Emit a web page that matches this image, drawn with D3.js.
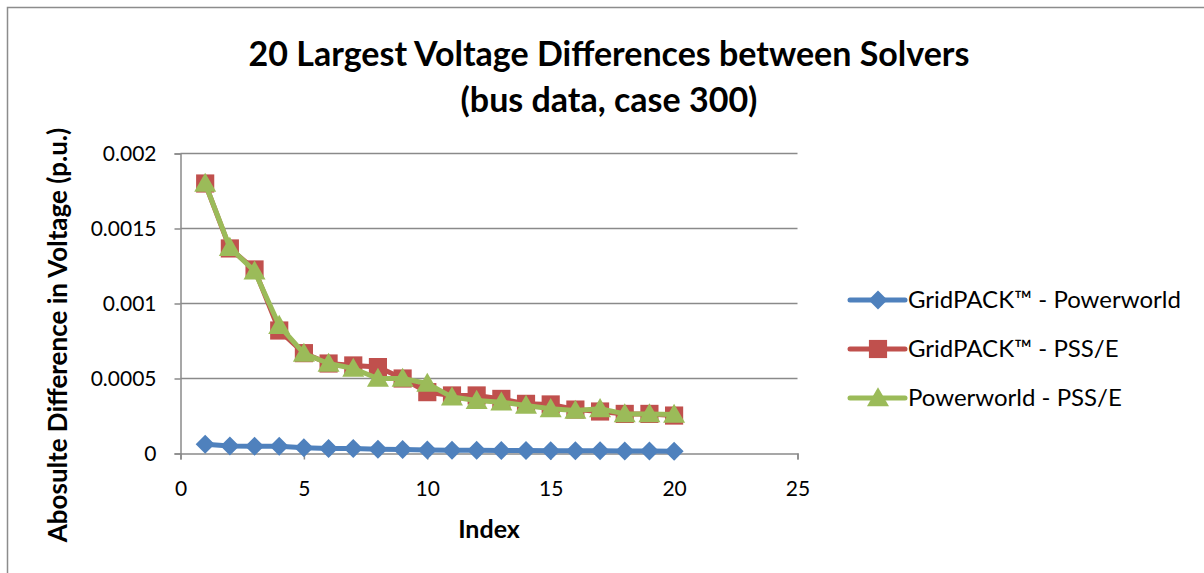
<!DOCTYPE html>
<html>
<head>
<meta charset="utf-8">
<script src="https://cdn.jsdelivr.net/npm/d3@7"></script>
<style>
  body { margin: 0; background: #fff; }
  text { font-family: Lato, "Open Sans", sans-serif; fill: #000; }
</style>
</head>
<body>
<div id="chart"></div>
<script>
// index 1..20
var idx = d3.range(1, 21)
var gpPw = [0.000062, 0.00005, 0.000049, 0.000048, 0.000038, 0.000034, 0.000033, 0.000029, 0.000027, 0.000023,
  0.000022, 0.000021, 0.00002, 0.00002, 0.000019, 0.000018, 0.000018, 0.000017, 0.000016, 0.000015]
var gpPss = [0.0018, 0.001367, 0.001227, 0.00082, 0.000669, 0.0006, 0.000587, 0.000576, 0.0005, 0.000409,
  0.000387, 0.000387, 0.000364, 0.000331, 0.000327, 0.000293, 0.00028, 0.000264, 0.000264, 0.000253]
var pwPss = [0.0018, 0.001373, 0.001216, 0.000853, 0.000667, 0.0006, 0.000567, 0.0005, 0.0005, 0.000467,
  0.000376, 0.000353, 0.000342, 0.00032, 0.000298, 0.000287, 0.000298, 0.000264, 0.000264, 0.00026]
var seriesNames = ['GridPACK\u2122 - Powerworld', 'GridPACK\u2122 - PSS/E', 'Powerworld - PSS/E']
var xTicks = [0, 5, 10, 15, 20, 25]
var yTicks = [0, 0.0005, 0.001, 0.0015, 0.002]

var width = 1204, height = 573
var series = [
  { name: seriesNames[0], values: gpPw, color: '#4F81BD', shape: 'diamond' },
  { name: seriesNames[1], values: gpPss, color: '#C0504D', shape: 'square' },
  { name: seriesNames[2], values: pwPss, color: '#9BBB59', shape: 'triangle' }
]

// marker path + small offset per shape
function marker(shape) {
  if (shape === 'triangle') return d3.symbol().type(d3.symbolTriangle).size(210)()
  if (shape === 'square') return d3.symbol().type(d3.symbolSquare).size(330)()
  return 'M0,-9.5L9.5,0L0,9.5L-9.5,0Z'
}
var dy = s => s === 'triangle' ? 2 : 0

var svg = d3.select('#chart').append('svg')
  .attr('width', width)
  .attr('height', height)

// outer chart border
svg.append('rect')
  .attr('x', 7.5).attr('y', 7.5)
  .attr('width', 1230).attr('height', 600)
  .attr('fill', 'none')
  .attr('stroke', '#8c8c8c')
  .attr('stroke-width', 1.5)

var x = d3.scaleLinear().domain([0, 25]).range([180.5, 797.5])
var y = d3.scaleLinear().domain([0, 0.002]).range([453.5, 153.5])

// gridlines
svg.append('g')
  .selectAll('line')
  .data(yTicks.slice(1))
  .enter().append('line')
  .attr('x1', x(0)).attr('x2', x(25))
  .attr('y1', d => y(d)).attr('y2', d => y(d))
  .attr('stroke', '#8a8a8a')
  .attr('stroke-width', 1.5)

// axes
var yAxis = svg.append('g')
  .attr('transform', 'translate(' + x(0) + ',0)')
  .call(d3.axisLeft(y).tickValues(yTicks).tickSize(6).tickPadding(18)
    .tickFormat(d => d === 0 ? '0' : String(+d.toFixed(4))))
var xAxis = svg.append('g')
  .attr('transform', 'translate(0,' + y(0) + ')')
  .call(d3.axisBottom(x).tickValues(xTicks).tickSize(6).tickPadding(22))

;[xAxis, yAxis].forEach(a => {
  a.select('.domain').attr('stroke', '#8a8a8a').attr('stroke-width', 1.5)
  a.selectAll('.tick line').attr('stroke', '#8a8a8a').attr('stroke-width', 1.5)
  a.selectAll('.tick text').attr('font-size', 21).attr('font-family', 'Lato, sans-serif').attr('fill', '#000')
})
yAxis.selectAll('.tick text').attr('dy', '0.35em')

// lines and markers
var line = d3.line()
  .x((d, i) => x(idx[i]))
  .y(d => y(d))

series.forEach(s => {
  svg.append('path')
    .datum(s.values)
    .attr('fill', 'none')
    .attr('stroke', s.color)
    .attr('stroke-width', 5)
    .attr('stroke-linejoin', 'round')
    .attr('d', line)

  svg.append('g')
    .selectAll('path')
    .data(s.values)
    .enter().append('path')
    .attr('d', marker(s.shape))
    .attr('transform', (d, i) => 'translate(' + x(idx[i]) + ',' + (y(d) + dy(s.shape)) + ')')
    .attr('fill', s.color)
})

// title
var title = svg.append('text')
  .attr('text-anchor', 'middle')
  .attr('font-weight', 'bold')
  .attr('font-size', 34)
title.append('tspan').attr('x', 609).attr('y', 66).text('20 Largest Voltage Differences between Solvers')
title.append('tspan').attr('x', 609).attr('y', 112).text('(bus data, case 300)')

// axis titles
svg.append('text')
  .attr('x', 489).attr('y', 538)
  .attr('text-anchor', 'middle')
  .attr('font-weight', 'bold')
  .attr('font-size', 25)
  .text('Index')

svg.append('text')
  .attr('transform', 'translate(67,335) rotate(-90)')
  .attr('text-anchor', 'middle')
  .attr('font-weight', 'bold')
  .attr('font-size', 26)
  .text('Abosulte Difference in Voltage (p.u.)')

// legend
var legend = svg.append('g')
  .selectAll('g')
  .data(series)
  .enter().append('g')
  .attr('transform', (d, i) => 'translate(850,' + (300 + i * 49) + ')')

legend.append('line')
  .attr('x1', 0).attr('x2', 55)
  .attr('stroke', d => d.color)
  .attr('stroke-width', 5)
  .attr('stroke-linecap', 'round')

legend.append('path')
  .attr('d', d => marker(d.shape))
  .attr('transform', d => 'translate(28,' + dy(d.shape) + ')')
  .attr('fill', d => d.color)

legend.append('text')
  .attr('x', 58)
  .attr('dy', '0.35em')
  .attr('font-size', 24)
  .text(d => d.name)
</script>
</body>
</html>
